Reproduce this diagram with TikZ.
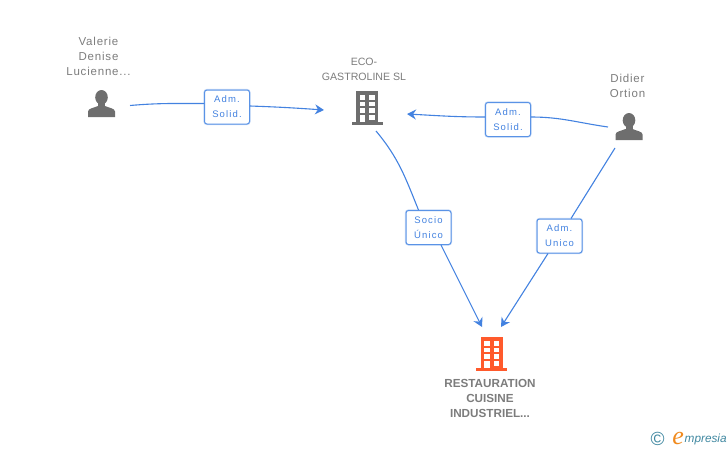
\documentclass[tikz,border=0pt]{standalone}
\usepackage{fontspec}
\setmainfont{Liberation Sans}
\newfontfamily\spacedfont[LetterSpace=12]{Liberation Sans}
\newfontfamily\personfont[LetterSpace=7]{Liberation Sans}
\newfontfamily\logofont{Liberation Serif}
\usetikzlibrary{arrows.meta}
\definecolor{linkblue}{HTML}{4382E0}
\definecolor{boxblue}{HTML}{5A93E6}
\definecolor{iconGrey}{HTML}{6E6E6E}
\definecolor{nameGrey}{HTML}{7C7C7C}
\definecolor{mainOrange}{HTML}{FF5A2C}
\definecolor{logoTeal}{HTML}{3F87A0}
\definecolor{logoOrange}{HTML}{F08A1E}
\tikzset{
    link/.style = {draw=linkblue, line width=1.1pt},
    linkarrow/.style = {link, -{Stealth[length=9pt,width=10pt,inset=3pt]}},
    rolebox/.style = {draw=boxblue, line width=1pt, rounded corners=2.5pt, fill=white,
        preaction={draw=boxblue!35, line width=2.2pt},
        minimum width=45pt, minimum height=34pt, inner sep=0pt, align=center,
        text=linkblue, font=\spacedfont\fontsize{9.5}{15}\selectfont},
    personname/.style = {align=center, text=nameGrey, inner sep=0pt,
        font=\personfont\fontsize{11.5}{15}\selectfont},
    econame/.style = {personname, font=\fontsize{10.6}{15}\selectfont},
    mainname/.style = {personname, font=\bfseries\fontsize{11.7}{15}\selectfont},
    pics/person/.style = {code = {
        \fill[iconGrey] (0,7.3) ellipse (6.3 and 7.3);
        \fill[iconGrey] (-3.5,10) rectangle (3.5,18);
        \fill[iconGrey] (-13.5,27) -- (-13.5,21.5) .. controls (-13.5,18.5) and (-8,18) .. (-3.5,16)
            -- (3.5,16) .. controls (8,18) and (13.5,18.5) .. (13.5,21.5) -- (13.5,27) -- cycle;
    }},
    pics/building/.style = {code = {
        \fill[#1] (-11,0) rectangle (11,31);
        \fill[#1] (-15.5,31) rectangle (15.5,34);
        \foreach \rowy in {4,10.7,17.3} {
            \fill[white] (-7.2,\rowy) rectangle (-1.8,\rowy+4.7);
            \fill[white] (2.3,\rowy) rectangle (7.7,\rowy+4.7);
        }
        \fill[white] (-7.2,24) rectangle (-1.8,31);
        \fill[white] (2.3,24) rectangle (7.7,28.7);
    }}
}
\begin{document}
\begin{tikzpicture}[x=1pt, y=-1pt]
    \useasboundingbox (0,0) rectangle (728,450);
    % icons
    \pic at (101.5,90) {person};
    \pic at (629,113) {person};
    \pic at (367,91) {building=iconGrey};
    \pic at (491.5,337) {building=mainOrange};
    % names
    \node[personname] (valerie) at (98.5,56) {Valerie\\Denise\\Lucienne...};
    \node[econame] (eco) at (364,69.5) {ECO-\\GASTROLINE SL};
    \node[personname] (didier) at (627.5,86) {Didier\\Ortion};
    \node[mainname] (restauration) at (490,398) {RESTAURATION\\CUISINE\\INDUSTRIEL...};
    % connector ends
    \coordinate (valerieout) at (130,105.5);
    \coordinate (ecoleft) at (324,110);
    \coordinate (ecoright) at (407,114);
    \coordinate (ecoout) at (376,131);
    \coordinate (didierleft) at (608,127);
    \coordinate (didierout) at (615,148);
    \coordinate (mainleft) at (482,327);
    \coordinate (mainright) at (501,327);
    % role boxes
    \node[rolebox] (admval) at (227,107) {Adm.\\Solid.};
    \node[rolebox] (admdid) at (508,119.5) {Adm.\\Solid.};
    \node[rolebox] (socio) at (428.5,227.5) {Socio\\Único};
    \node[rolebox] (admuni) at (559.5,236) {Adm.\\Unico};
    % connectors
    \draw[link] (valerieout) to[out=5, in=180] ([yshift=3.5pt]admval.west);
    \draw[linkarrow] ([yshift=1pt]admval.east) to[out=-2, in=176] (ecoleft);
    \draw[link] (didierleft) to[out=172, in=0] ([yshift=2.5pt]admdid.east);
    \draw[linkarrow] ([yshift=2.5pt]admdid.west) to[out=180, in=-3] (ecoright);
    \draw[link] (ecoout) to[out=-50, in=112] ([xshift=-10pt]socio.north);
    \draw[linkarrow] ([xshift=12.5pt]socio.south) -- (mainleft);
    \draw[link] (didierout) -- ([xshift=11.5pt]admuni.north);
    \draw[linkarrow] ([xshift=-11.5pt]admuni.south) -- (mainright);
    % logo
    \node[inner sep=0pt, text=logoTeal, font=\fontsize{19}{19}\selectfont] (copyright) at (657.5,438.5) {©};
    \node[inner sep=0pt, anchor=base west, text=logoTeal, font=\itshape\fontsize{11.8}{12}\selectfont] (brand) at (684.5,442) {mpresia};
    \node[inner sep=0pt, anchor=base east, text=logoOrange, font=\logofont\itshape\fontsize{26}{26}\selectfont] (brande) at (684,444) {e};
\end{tikzpicture}
\end{document}
